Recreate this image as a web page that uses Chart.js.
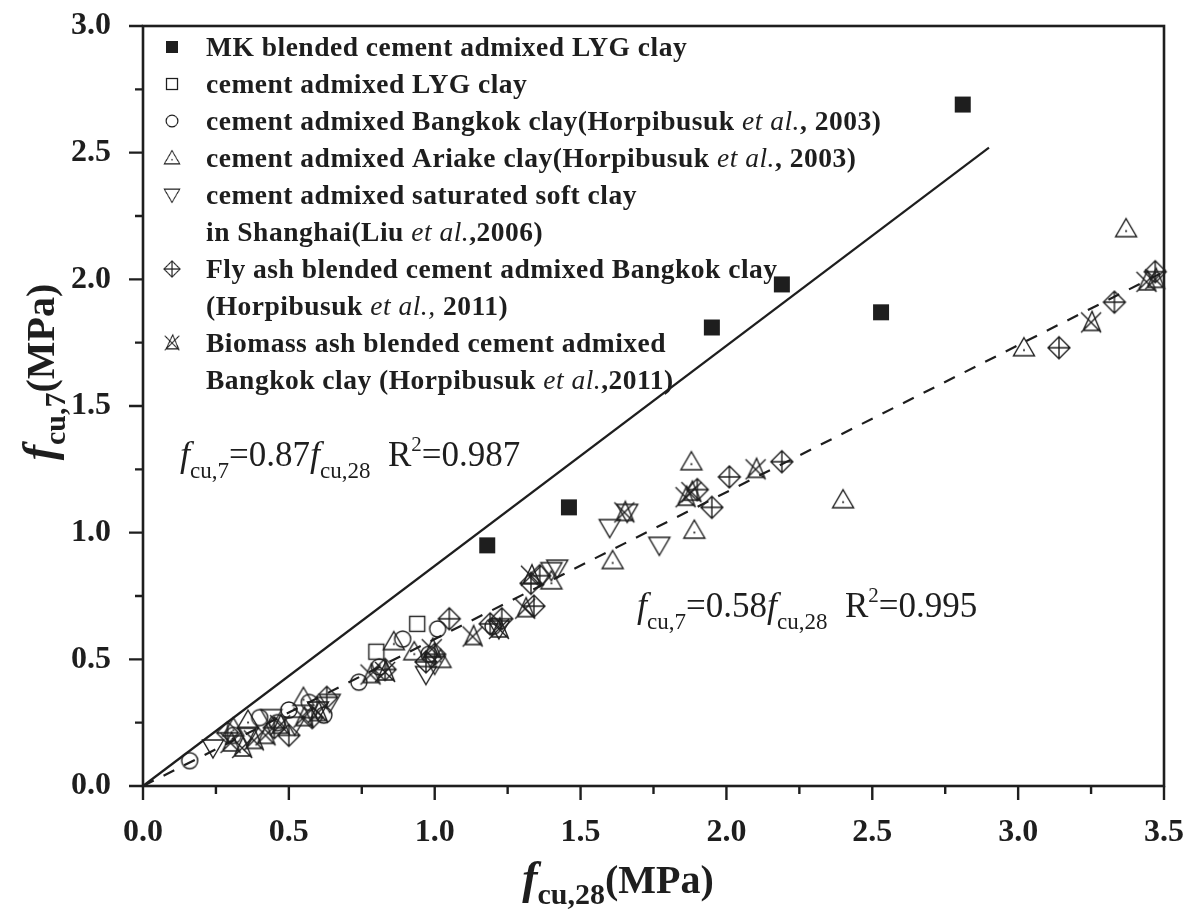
<!DOCTYPE html>
<html>
<head>
<meta charset="utf-8">
<script src="https://cdn.jsdelivr.net/npm/chart.js@4.4.1/dist/chart.umd.min.js"></script>
<style>
  html, body { margin: 0; background: #fff; }
</style>
</head>
<body>
<canvas id="myChart" width="1196" height="912"></canvas>
<script>
const SERIF = '"Liberation Serif", "Times New Roman", serif';
const INK = '#1e1e1e';

// f_cu,28 vs f_cu,7 (MPa) per soil / binder group
const mkBlended = [[1.18, 0.95], [1.46, 1.10], [1.95, 1.81], [2.19, 1.98], [2.53, 1.87], [2.81, 2.69]];
const lygCement = [[0.80, 0.53], [0.94, 0.64]];
const bangkok2003 = [[0.16, 0.10], [0.31, 0.20], [0.40, 0.27], [0.46, 0.25], [0.50, 0.30], [0.57, 0.33],
  [0.62, 0.28], [0.74, 0.41], [0.81, 0.47], [0.89, 0.58], [0.98, 0.52], [1.01, 0.62], [1.20, 0.63]];
const ariake2003 = [[0.31, 0.23], [0.36, 0.26], [0.55, 0.35], [0.86, 0.57], [0.93, 0.53], [1.02, 0.50],
  [1.40, 0.81], [1.61, 0.89], [1.88, 1.28], [1.89, 1.01], [2.40, 1.13], [3.02, 1.73], [3.37, 2.20]];
const shanghai2006 = [[0.24, 0.15], [0.36, 0.20], [0.44, 0.27], [0.52, 0.24], [0.60, 0.30], [0.64, 0.33],
  [0.97, 0.44], [1.00, 0.48], [1.22, 0.62], [1.40, 0.85], [1.42, 0.86], [1.60, 1.02], [1.66, 1.08], [1.77, 0.95]];
const flyAsh2011 = [[0.29, 0.21], [0.45, 0.23], [0.50, 0.20], [0.58, 0.27], [0.63, 0.35], [0.83, 0.46],
  [0.97, 0.49], [1.00, 0.52], [1.05, 0.66], [1.19, 0.64], [1.23, 0.66], [1.33, 0.80], [1.34, 0.71],
  [1.36, 0.83], [1.90, 1.17], [1.95, 1.10], [2.01, 1.22], [2.19, 1.28], [3.14, 1.73], [3.33, 1.91], [3.47, 2.03]];
const biomass2011 = [[0.30, 0.17], [0.34, 0.15], [0.38, 0.18], [0.42, 0.20], [0.47, 0.24], [0.55, 0.27],
  [0.60, 0.29], [0.78, 0.44], [0.83, 0.45], [0.99, 0.54], [1.13, 0.59], [1.22, 0.62], [1.31, 0.70],
  [1.33, 0.83], [1.65, 1.08], [1.86, 1.14], [1.88, 1.16], [2.10, 1.25], [3.25, 1.83], [3.44, 1.99], [3.47, 2.00]];

// fitted lines: fcu7 = 0.87 fcu28 (MK) and fcu7 = 0.58 fcu28 (others)
const fitMk = [[0, 0], [2.90, 2.52]];
const fitOthers = [[0, 0], [3.50, 2.03]];

const xTicks = [0, 0.5, 1.0, 1.5, 2.0, 2.5, 3.0, 3.5];
const yTicks = [0, 0.5, 1.0, 1.5, 2.0, 2.5, 3.0];

const toXY = arr => arr.map(p => ({ x: p[0], y: p[1] }));

function marker(kind) {
  const s = 30;
  const c = document.createElement('canvas');
  c.width = s; c.height = s;
  const g = c.getContext('2d');
  g.translate(s / 2, s / 2);
  g.strokeStyle = INK; g.fillStyle = INK; g.lineWidth = 1.4;
  g.beginPath();
  if (kind === 'solidSquare') {
    g.fillRect(-8, -8, 16, 16);
  } else if (kind === 'square') {
    g.strokeRect(-7.5, -7.5, 15, 15);
  } else if (kind === 'circle') {
    g.arc(0, 0, 8, 0, Math.PI * 2); g.stroke();
  } else if (kind === 'triUp') {
    g.moveTo(0, -10); g.lineTo(10.5, 8); g.lineTo(-10.5, 8); g.closePath(); g.stroke();
    g.fillRect(-0.9, 1.5, 1.8, 1.8);
  } else if (kind === 'triDown') {
    g.moveTo(0, 10); g.lineTo(10.5, -8); g.lineTo(-10.5, -8); g.closePath(); g.stroke();
  } else if (kind === 'diamondPlus') {
    g.moveTo(0, -11); g.lineTo(11, 0); g.lineTo(0, 11); g.lineTo(-11, 0); g.closePath();
    g.moveTo(0, -11); g.lineTo(0, 11); g.moveTo(-11, 0); g.lineTo(11, 0); g.stroke();
  } else if (kind === 'xTri') {
    g.moveTo(-10, -10); g.lineTo(10, 10); g.moveTo(10, -10); g.lineTo(-10, 10);
    g.moveTo(1, -11); g.lineTo(9, 8); g.lineTo(-8, 8); g.closePath(); g.stroke();
  }
  return c;
}

const M = {
  mk: marker('solidSquare'), lyg: marker('square'), bkk: marker('circle'), ari: marker('triUp'),
  sh: marker('triDown'), fly: marker('diamondPlus'), bio: marker('xTri')
};

function pointSet(data, img) {
  return { type: 'scatter', data: toXY(data), pointStyle: img, pointRadius: 10, clip: false, showLine: false };
}
function lineSet(data, dash) {
  return {
    type: 'line', data: toXY(data), borderColor: INK, borderWidth: 2.2, borderDash: dash,
    pointRadius: 0, fill: false, tension: 0, clip: false
  };
}

// text made of runs: [text, font, dy]
function drawRuns(ctx, x, y, runs, align) {
  let w = 0;
  runs.forEach(r => { ctx.font = r[1]; w += ctx.measureText(r[0]).width; });
  let cx = align === 'center' ? x - w / 2 : x;
  runs.forEach(r => {
    ctx.font = r[1];
    ctx.fillText(r[0], cx, y + (r[2] || 0));
    cx += ctx.measureText(r[0]).width;
  });
}

const legendRows = [
  { img: M.mk, runs: [['MK blended cement admixed LYG clay', 'b']] },
  { img: M.lyg, runs: [['cement admixed LYG clay', 'b']] },
  { img: M.bkk, runs: [['cement admixed Bangkok clay(Horpibusuk ', 'b'], ['et al.', 'i'], [', 2003)', 'b']] },
  { img: M.ari, runs: [['cement admixed Ariake clay(Horpibusuk ', 'b'], ['et al.', 'i'], [', 2003)', 'b']] },
  { img: M.sh, runs: [['cement admixed saturated soft clay', 'b']] },
  { img: null, runs: [['in Shanghai(Liu ', 'b'], ['et al.', 'i'], [',2006)', 'b']] },
  { img: M.fly, runs: [['Fly ash blended cement admixed Bangkok clay', 'b']] },
  { img: null, runs: [['(Horpibusuk ', 'b'], ['et al.,', 'i'], [' 2011)', 'b']] },
  { img: M.bio, runs: [['Biomass ash blended cement admixed', 'b']] },
  { img: null, runs: [['Bangkok clay (Horpibusuk ', 'b'], ['et al.', 'i'], [',2011)', 'b']] }
];

const decorations = {
  id: 'decorations',
  afterDraw(chart) {
    const { ctx, chartArea: a, scales: { x, y } } = chart;
    ctx.save();
    ctx.strokeStyle = INK; ctx.fillStyle = INK;

    // frame
    ctx.lineWidth = 2.6;
    ctx.strokeRect(a.left, a.top, a.right - a.left, a.bottom - a.top);

    // major and minor ticks, outward
    ctx.lineWidth = 2.4;
    ctx.beginPath();
    for (let v = 0; v <= 3.5 + 1e-9; v += 0.25) {
      const px = x.getPixelForValue(v);
      const len = Math.abs(v * 2 - Math.round(v * 2)) < 1e-6 ? 14 : 8;
      ctx.moveTo(px, a.bottom); ctx.lineTo(px, a.bottom + len);
    }
    for (let v = 0; v <= 3.0 + 1e-9; v += 0.25) {
      const py = y.getPixelForValue(v);
      const len = Math.abs(v * 2 - Math.round(v * 2)) < 1e-6 ? 14 : 8;
      ctx.moveTo(a.left, py); ctx.lineTo(a.left - len, py);
    }
    ctx.stroke();

    ctx.textBaseline = 'alphabetic';
    ctx.textAlign = 'left';

    // fitted equations
    const eqN = '35px ' + SERIF, eqI = 'italic 36px ' + SERIF, eqS = '23px ' + SERIF, eqP = '21px ' + SERIF;
    drawRuns(ctx, 180, 466, [['f', eqI], ['cu,7', eqS, 12], ['=0.87', eqN], ['f', eqI], ['cu,28', eqS, 12],
      ['  R', eqN], ['2', eqP, -15], ['=0.987', eqN]]);
    drawRuns(ctx, 637, 617, [['f', eqI], ['cu,7', eqS, 12], ['=0.58', eqN], ['f', eqI], ['cu,28', eqS, 12],
      ['  R', eqN], ['2', eqP, -15], ['=0.995', eqN]]);

    // axis titles
    const tB = 'bold 40px ' + SERIF, tI = 'bold italic 46px ' + SERIF, tS = 'bold 30px ' + SERIF;
    drawRuns(ctx, 618, 893, [['f', tI], ['cu,28', tS, 11], ['(MPa)', tB]], 'center');
    ctx.save();
    ctx.translate(54, 372);
    ctx.rotate(-Math.PI / 2);
    drawRuns(ctx, 0, 0, [['f', tI], ['cu,7', tS, 11], ['(MPa)', tB]], 'center');
    ctx.restore();

    // legend
    ctx.letterSpacing = '0.5px';
    const lgB = 'bold 27.5px ' + SERIF, lgI = 'italic 27.5px ' + SERIF;
    legendRows.forEach((row, i) => {
      const cy = 47 + 37 * i;
      if (row.img) ctx.drawImage(row.img, 172 - 11, cy - 11, 22, 22);
      drawRuns(ctx, 206, cy + 9, row.runs.map(r => [r[0], r[1] === 'i' ? lgI : lgB]));
    });
    ctx.restore();
  }
};

new Chart(document.querySelector('#myChart').getContext('2d'), {
  type: 'scatter',
  data: {
    datasets: [
      pointSet(mkBlended, M.mk),
      pointSet(lygCement, M.lyg),
      pointSet(bangkok2003, M.bkk),
      pointSet(ariake2003, M.ari),
      pointSet(shanghai2006, M.sh),
      pointSet(flyAsh2011, M.fly),
      pointSet(biomass2011, M.bio),
      lineSet(fitMk, []),
      lineSet(fitOthers, [12, 11])
    ]
  },
  options: {
    responsive: false,
    animation: false,
    events: [],
    layout: { padding: { top: 26, right: 32, left: 0, bottom: 0 } },
    plugins: { legend: { display: false }, tooltip: { enabled: false } },
    scales: {
      x: {
        type: 'linear', min: 0, max: 3.5,
        afterFit: s => { s.height = 126; s.paddingLeft = 0; s.paddingRight = 0; },
        afterBuildTicks: s => { s.ticks = xTicks.map(v => ({ value: v })); },
        ticks: { padding: 20, color: INK, font: { family: SERIF, size: 32, weight: 'bold' }, callback: v => v.toFixed(1) },
        grid: { display: false }, border: { display: false }
      },
      y: {
        type: 'linear', min: 0, max: 3.0,
        afterFit: s => { s.width = 143; s.paddingTop = 0; s.paddingBottom = 0; },
        afterBuildTicks: s => { s.ticks = yTicks.map(v => ({ value: v })); },
        ticks: { padding: 24, color: INK, font: { family: SERIF, size: 32, weight: 'bold' }, callback: v => v.toFixed(1) },
        grid: { display: false }, border: { display: false }
      }
    }
  },
  plugins: [decorations]
});
</script>
</body>
</html>
